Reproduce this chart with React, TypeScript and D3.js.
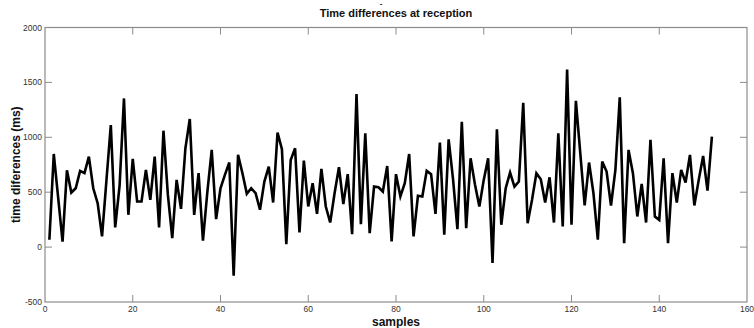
import React from "react";
import * as d3 from "d3";

const samples: number[] = Array.from({ length: 152 }, (_, i) => i + 1);
const timeDiffs: number[] = [
  67, 848, 450, 50, 700, 497, 536, 694, 673, 824,
  536, 400, 97, 606, 1112, 179, 560, 1354, 294, 803,
  415, 415, 703, 430, 824, 179, 1060, 480, 82, 612,
  348, 900, 1167, 294, 673, 58, 500, 885, 255, 536,
  658, 770, -260, 840, 673, 485, 536, 491, 340, 597,
  733, 406, 1042, 891, 27, 794, 900, 133, 788, 370,
  582, 303, 712, 370, 224, 491, 727, 391, 664, 118,
  1394, 209, 1036, 127, 551, 545, 506, 739, 52, 664,
  461, 582, 848, 97, 467, 461, 694, 664, 303, 951,
  112, 982, 620, 164, 1142, 173, 809, 570, 370, 612,
  809, -145, 1073, 203, 536, 679, 551, 597, 1315, 218,
  430, 673, 618, 406, 636, 224, 1036, 188, 1618, 203,
  1333, 855, 379, 770, 491, 67, 779, 688, 379, 700,
  1364, 36, 885, 673, 279, 576, 224, 976, 279, 248,
  809, 36, 673, 406, 703, 588, 839, 379, 612, 830,
  515, 1006,
];
const xTicks: number[] = [0, 20, 40, 60, 80, 100, 120, 140, 160];
const yTicks: number[] = [-500, 0, 500, 1000, 1500, 2000];

const W = 754;
const H = 328;
const L = 45, R = 747, T = 27.5, B = 302;

export default function App() {
  const x = d3.scaleLinear().domain([0, 160]).range([L, R]);
  const y = d3.scaleLinear().domain([-500, 2000]).range([B, T]);
  const line = d3
    .line<number>()
    .x((_, i) => x(samples[i]))
    .y((d) => y(d));
  const frame = "#8c8c8c";
  const tickLen = 7;
  return (
    <>
      <style>{`body{margin:0}`}</style>
      <svg width={W} height={H} style={{ display: "block", background: "#fff" }} fontFamily="'Liberation Sans', Arial, sans-serif">
        <rect x={L} y={T} width={R - L} height={B - T} fill="none" stroke={frame} strokeWidth={1.2} />
        {xTicks.slice(1, -1).map((t) => (
          <g key={"xt" + t}>
            <line x1={x(t)} x2={x(t)} y1={B} y2={B - tickLen} stroke={frame} />
            <line x1={x(t)} x2={x(t)} y1={T} y2={T + tickLen} stroke={frame} />
          </g>
        ))}
        {yTicks.slice(1, -1).map((t) => (
          <g key={"yt" + t}>
            <line x1={L} x2={L + tickLen} y1={y(t)} y2={y(t)} stroke={frame} />
            <line x1={R} x2={R - tickLen} y1={y(t)} y2={y(t)} stroke={frame} />
          </g>
        ))}
        {xTicks.map((t) => (
          <text key={"xl" + t} x={x(t)} y={B + 10} fontSize={8.5} textAnchor="middle" fill="#333">
            {t}
          </text>
        ))}
        {yTicks.map((t) => (
          <text key={"yl" + t} x={L - 3} y={y(t) + 3} fontSize={8.5} textAnchor="end" fill="#333">
            {t}
          </text>
        ))}
        <path d={line(timeDiffs) || ""} fill="none" stroke="#000" strokeWidth={2.6} strokeLinejoin="miter" strokeMiterlimit={4} />
        <text x={396} y={17} fontSize={11} fontWeight="bold" textAnchor="middle" fill="#111">
          Time differences at reception
        </text>
        <text x={381} y={6} fontSize={8} fontWeight="bold" textAnchor="middle" fill="#111">-</text>
        <text x={396} y={326} fontSize={12} fontWeight="bold" textAnchor="middle" fill="#111">
          samples
        </text>
        <text
          transform={`translate(20,${(T + B) / 2}) rotate(-90)`}
          fontSize={12}
          fontWeight="bold"
          textAnchor="middle"
          fill="#111"
        >
          time diferences (ms)
        </text>
      </svg>
    </>
  );
}
